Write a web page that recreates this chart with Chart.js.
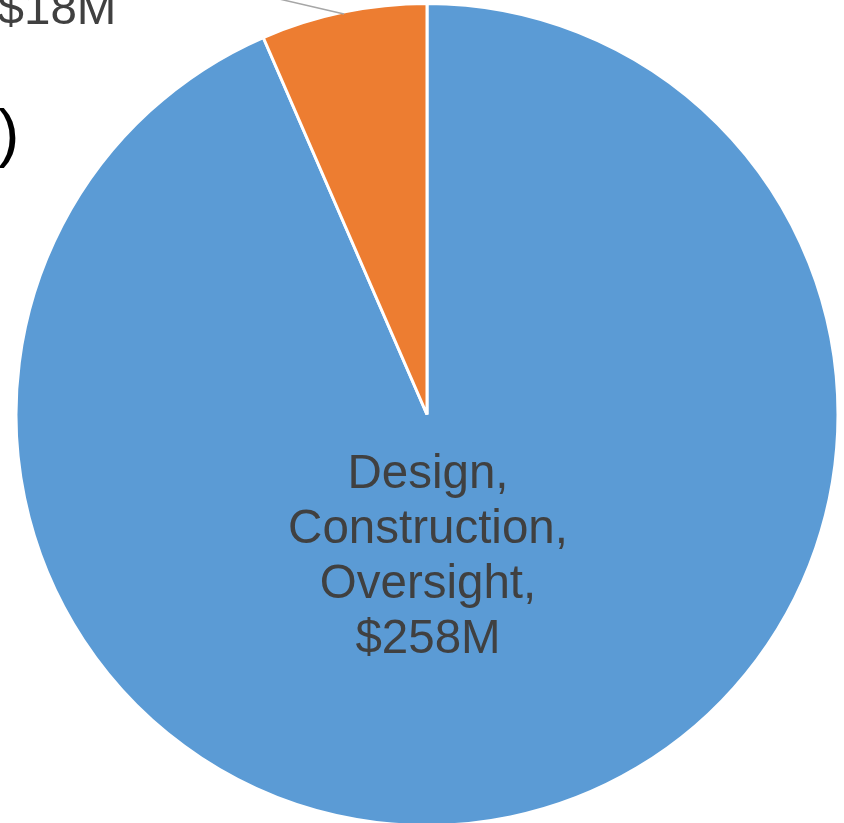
<!DOCTYPE html>
<html>
<head>
<meta charset="utf-8">
<script src="https://cdn.jsdelivr.net/npm/chart.js@4"></script>
<style>
  html, body { margin: 0; padding: 0; background: #fff; overflow: hidden; }
  #box { width: 844px; height: 827px; position: relative; }
</style>
</head>
<body>
<div id="box"><canvas id="grafico"></canvas></div>
<script>
const categorias = ["Design, Construction, Oversight", "Other"];
const valores = [258, 18];
const rotulos = [["Design,", "Construction,", "Oversight,", "$258M"], ["$18M"]];
const cores = ["#5B9BD5", "#ED7D31"];

// rotulos de dados desenhados na mao, estilo Excel
const rotulosPlugin = {
  id: "rotulos",
  afterDatasetsDraw(chart) {
    const ctx = chart.ctx;
    const arcos = chart.getDatasetMeta(0).data;
    const cx = arcos[0].x;
    const cy = arcos[0].y;

    ctx.save();
    ctx.font = "47.5px 'Liberation Sans', Arial, sans-serif";
    ctx.fillStyle = "#404040";
    ctx.textAlign = "center";
    ctx.textBaseline = "alphabetic";

    rotulos[0].forEach((linha, i) => {
      ctx.fillText(linha, cx + 1, cy + 73.5 + i * 55);
    });

    // rotulo externo da fatia pequena, com linha guia
    ctx.strokeStyle = "#A6A6A6";
    ctx.lineWidth = 1.5;
    ctx.beginPath();
    ctx.moveTo(cx - 83, cy - 400.5);
    ctx.lineTo(cx - 150, cy - 416);
    ctx.stroke();

    ctx.fillText(rotulos[1][0], cx - 370, cy - 390.5);

    // pedaco do titulo que sobrou no recorte
    ctx.font = "64px 'Liberation Sans', Arial, sans-serif";
    ctx.fillStyle = "#000000";
    ctx.textAlign = "left";
    ctx.fillText(")", -2, 154.5);
    ctx.restore();
  }
};

new Chart(document.getElementById("grafico"), {
  type: "pie",
  data: {
    labels: categorias,
    datasets: [
      {
        data: valores,
        backgroundColor: cores,
        borderColor: "#ffffff",
        borderWidth: 3
      }
    ]
  },
  options: {
    responsive: true,
    maintainAspectRatio: false,
    animation: false,
    layout: {
      padding: { left: 14.5, right: 4.5, top: 2, bottom: 0 }
    },
    plugins: {
      legend: { display: false },
      tooltip: { enabled: false }
    }
  },
  plugins: [rotulosPlugin]
});
</script>
</body>
</html>
